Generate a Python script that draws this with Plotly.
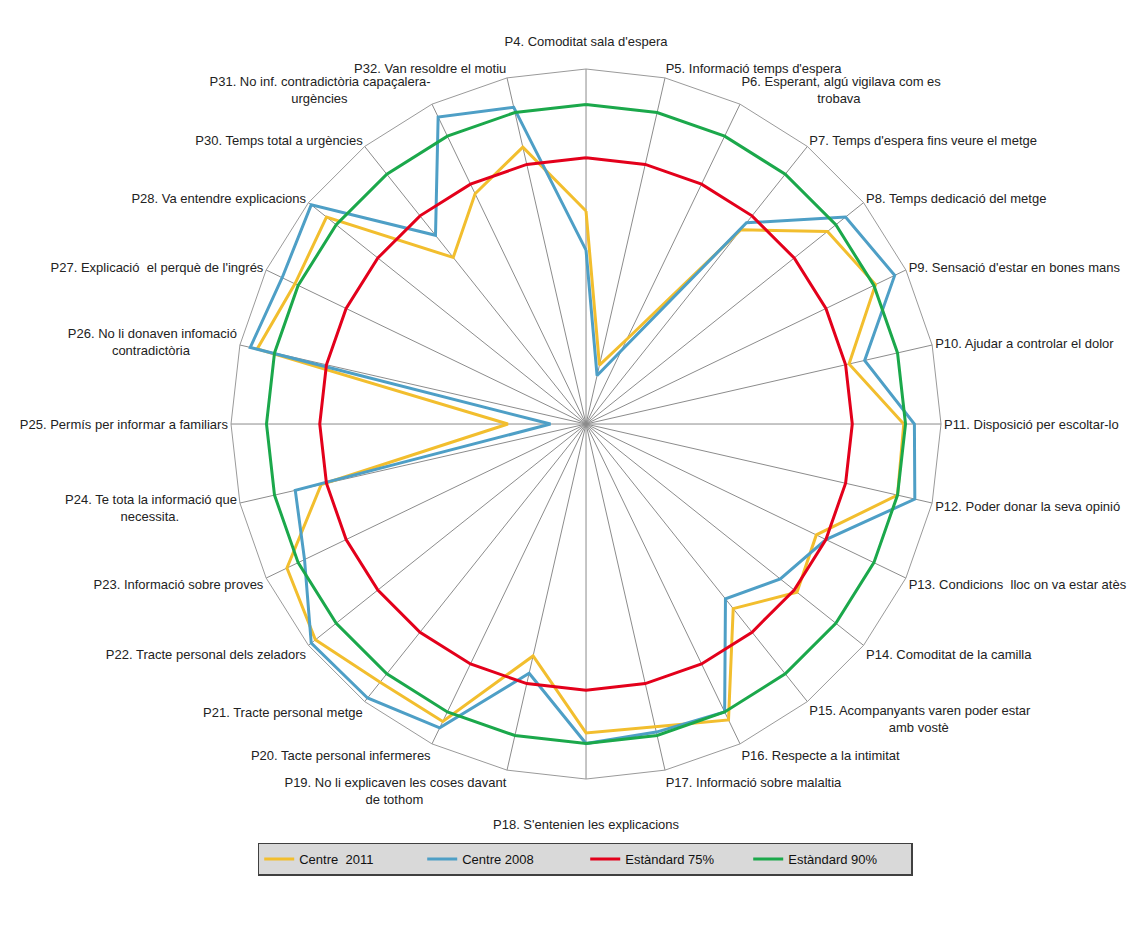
import plotly.graph_objects as go

NB = "\u00a0"

# Survey items shown around the radar (P29 is not part of the chart)
categories = [
    "P4", "P5", "P6", "P7", "P8", "P9", "P10", "P11", "P12", "P13", "P14",
    "P15", "P16", "P17", "P18", "P19", "P20", "P21", "P22", "P23", "P24",
    "P25", "P26", "P27", "P28", "P30", "P31", "P32",
]

# Axis labels; second lines are padded so they sit centred under the first
tick_labels = [
    "P4. Comoditat sala d'espera<br>" + NB,
    "P5. Informació temps d'espera",
    NB + "<br>P6. Esperant, algú vigilava com es<br>" + NB * 21 + "trobava",
    "P7. Temps d'espera fins veure el metge",
    "P8. Temps dedicació del metge",
    "P9. Sensació d'estar en bones mans",
    "P10. Ajudar a controlar el dolor",
    "P11. Disposició per escoltar-lo",
    "P12. Poder donar la seva opinió",
    "P13. Condicions" + NB + " lloc on va estar atès",
    "P14. Comoditat de la camilla",
    "P15. Acompanyants varen poder estar<br>" + NB * 22 + "amb vostè",
    "P16. Respecte a la intimitat",
    "P17. Informació sobre malaltia",
    NB + "<br>" + NB + "<br>P18. S'entenien les explicacions",
    "P19. No li explicaven les coses davant<br>de tothom" + NB * 23,
    "P20. Tacte personal infermeres",
    "P21. Tracte personal metge",
    "P22. Tracte personal dels zeladors",
    "P23. Informació sobre proves",
    "P24. Te tota la informació que<br>necessita." + NB * 16,
    "P25. Permís per informar a familiars",
    "P26. No li donaven infomació<br>contradictòria" + NB * 13,
    "P27. Explicació" + NB + " el perquè de l'ingrés",
    "P28. Va entendre explicacions",
    "P30. Temps total a urgències",
    NB + "<br>P31. No inf. contradictòria capaçalera-<br>urgències" + NB * 23,
    "P32. Van resoldre el motiu",
]

# Percentage of favourable answers per item
centre_2011 = [60, 17, 26.5, 70, 87, 90.5, 76, 89.5, 90, 72, 76, 66.5, 92.5, 87.5,
               87, 67, 93, 93, 97.5, 93.5, 76.5, 22, 95, 91, 93.5, 60, 72, 80]
centre_2008 = [49, 14, 23, 72.5, 93.5, 96.5, 80.5, 92.5, 95, 75, 70, 63, 90, 89,
               90, 72, 95, 98.7, 99, 88, 84, 10, 97, 95, 99, 68, 96, 91.5]

# Reference standards
standard_75 = [75] * len(categories)
standard_90 = [90] * len(categories)

series = [
    ("Centre  2011", centre_2011, "#F2BE2E"),
    ("Centre 2008", centre_2008, "#4E9FC6"),
    ("Estàndard 75%", standard_75, "#E3001B"),
    ("Estàndard 90%", standard_90, "#1BA84B"),
]

FONT = "Liberation Sans, Arial, sans-serif"

fig = go.Figure()
for name, values, color in series:
    # repeat the first point so every polygon closes
    fig.add_trace(go.Scatterpolar(
        r=values + values[:1],
        theta=categories + categories[:1],
        mode="lines",
        name=name,
        line=dict(color=color, width=3),
        hoverinfo="skip",
    ))

fig.update_layout(
    width=1143,
    height=925,
    margin=dict(l=0, r=0, t=0, b=0),
    paper_bgcolor="white",
    plot_bgcolor="white",
    font=dict(family=FONT, color="#222222", size=13),
    polar=dict(
        domain=dict(x=[0.2021, 0.8233], y=[0.1578, 0.9254]),
        bgcolor="white",
        gridshape="linear",
        radialaxis=dict(range=[0, 100], visible=False, showgrid=False),
        angularaxis=dict(
            type="category",
            categoryorder="array",
            categoryarray=categories,
            tickmode="array",
            tickvals=categories,
            ticktext=tick_labels,
            direction="clockwise",
            rotation=90,
            showgrid=True,
            gridcolor="#8c8c8c",
            gridwidth=1,
            showline=True,
            linecolor="#9a9a9a",
            linewidth=1,
            ticks="",
            tickfont=dict(family=FONT, size=13, color="#222222"),
        ),
    ),
    legend=dict(
        orientation="h",
        x=0.512,
        xanchor="center",
        y=0.089,
        yanchor="top",
        bgcolor="#D9D9D9",
        bordercolor="#404040",
        borderwidth=1.5,
        entrywidth=118,
        font=dict(family=FONT, size=13, color="#111111"),
    ),
)

fig.write_html("out.html")
